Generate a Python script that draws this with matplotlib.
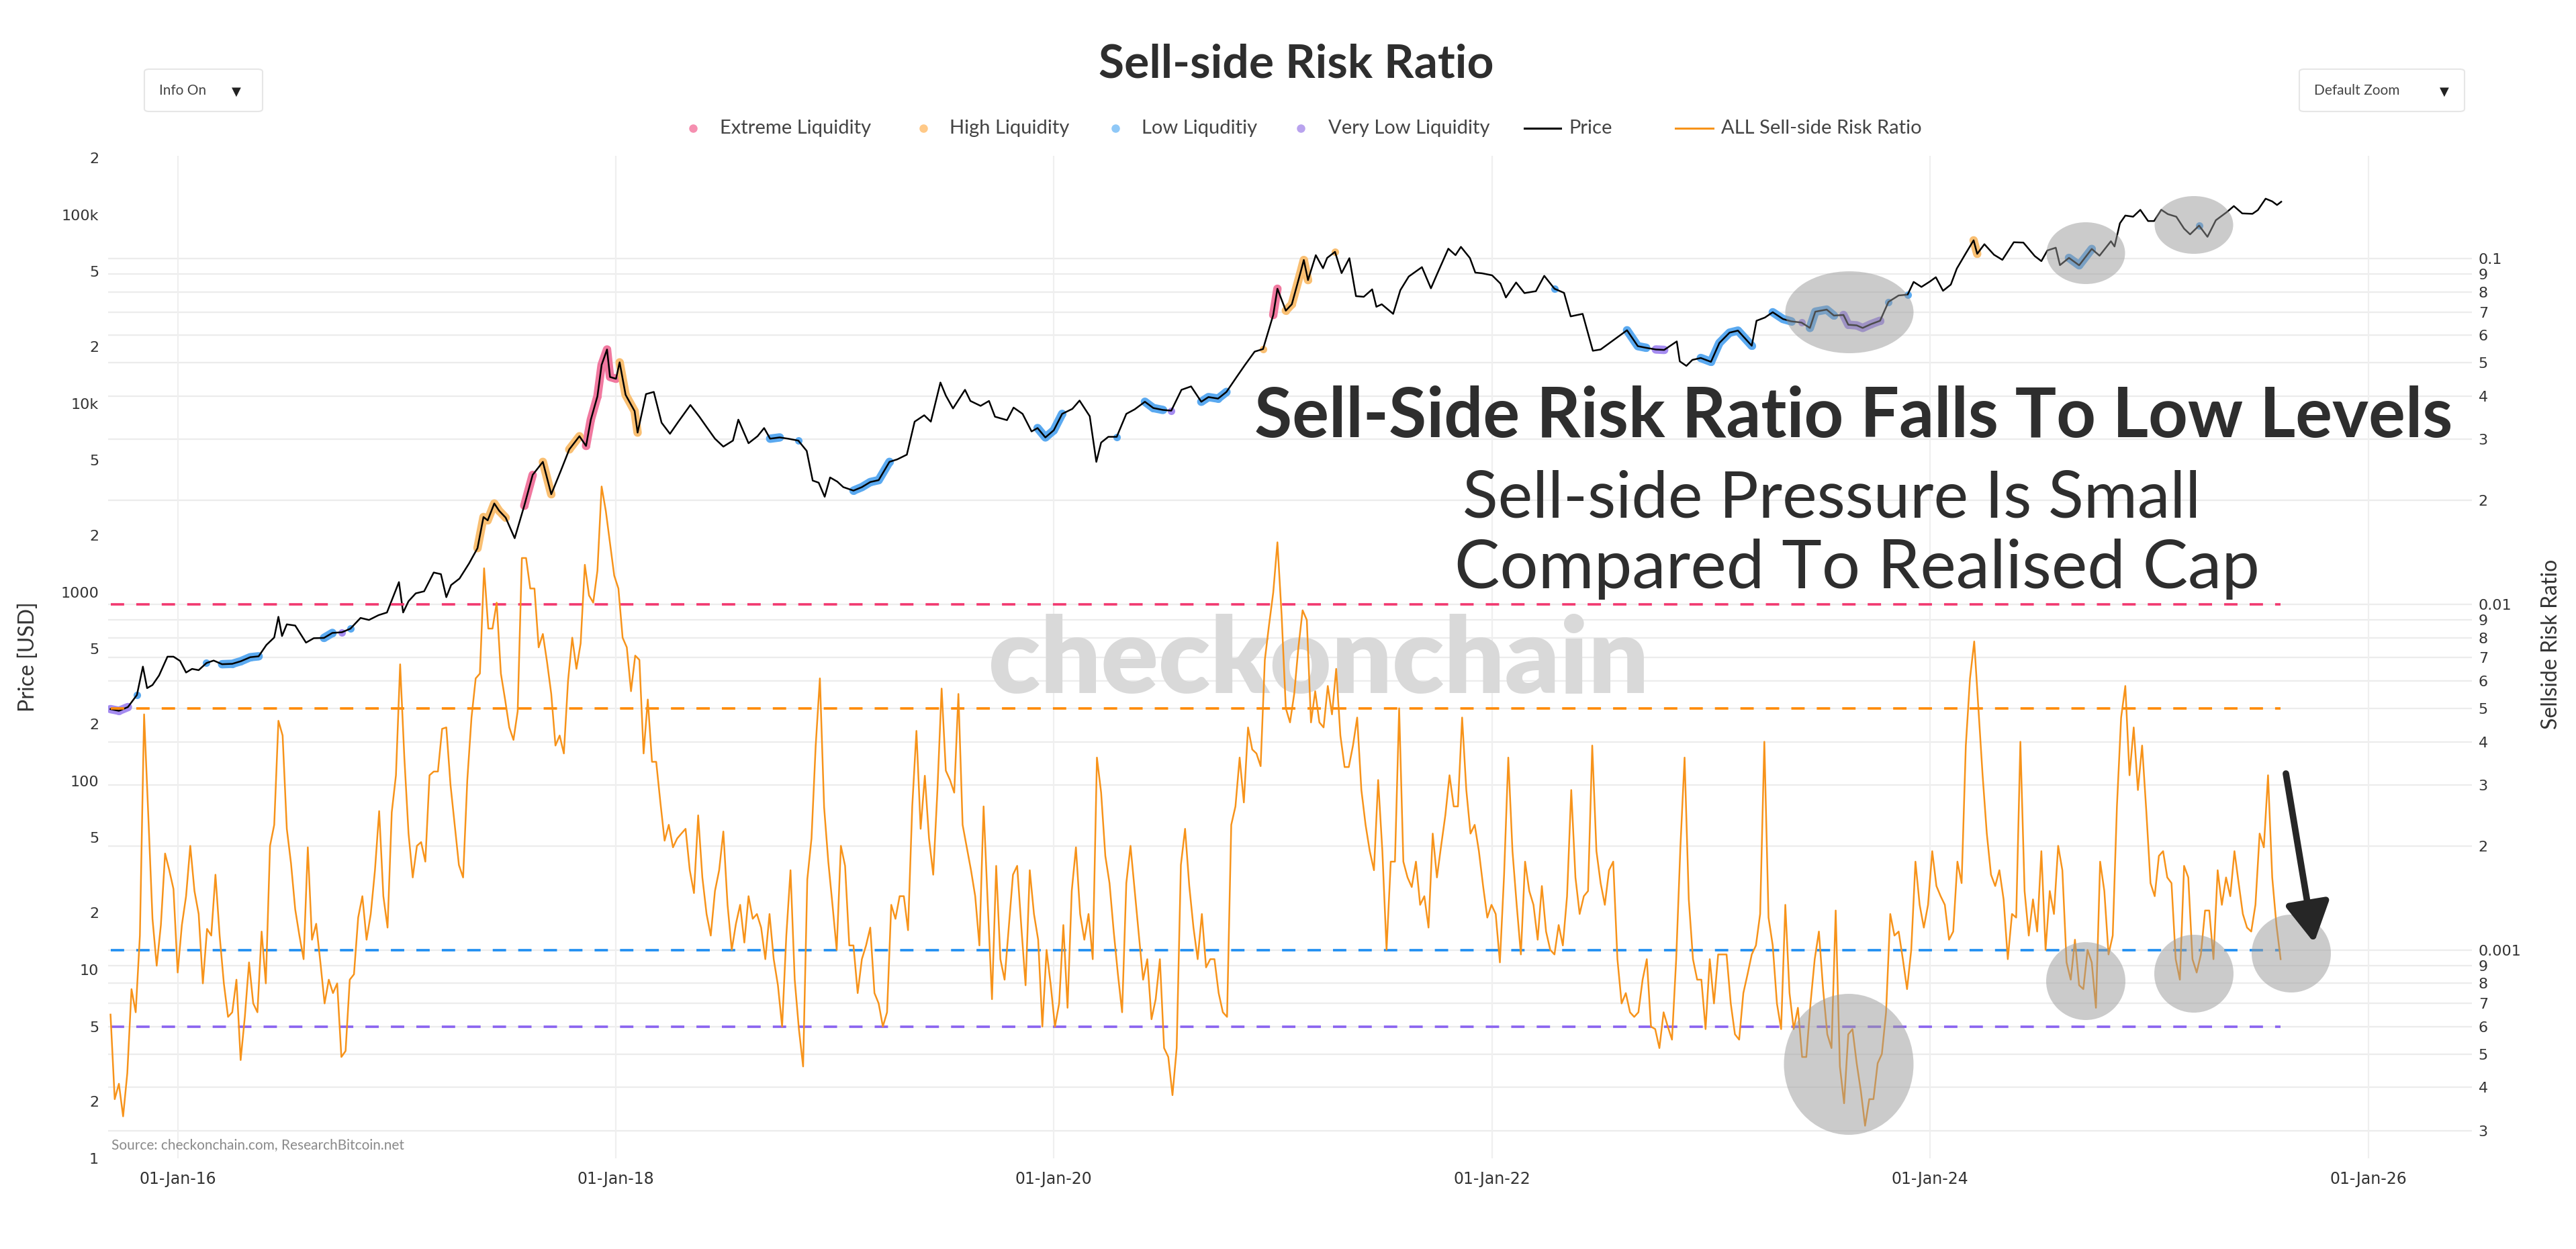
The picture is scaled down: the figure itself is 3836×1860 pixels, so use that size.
import numpy as np
import pandas as pd
import matplotlib
matplotlib.use("Agg")
import matplotlib.pyplot as plt
import matplotlib.dates as mdates
import matplotlib.ticker as mticker
from matplotlib.patches import Ellipse, FancyBboxPatch, FancyArrowPatch, ArrowStyle
from matplotlib.lines import Line2D

# ------------------------------------------------------------------ data
# Sell-side risk ratio, weekly samples (units of 1e-4)
ssr_start = "2015-09-11"
ssr_2015_2017 = [6.5, 3.7, 4.1, 3.3, 4.4, 7.7, 6.6, 11, 48, 24.5,
                 12.3, 9, 11.8, 19, 17, 15, 8.6, 11.8, 14.3, 20,
                 14.8, 12.7, 8, 11.5, 11, 16.5, 11, 8, 6.4, 6.6,
                 8.2, 4.8, 6.4, 9.2, 7, 6.6, 11.3, 8, 20, 23,
                 46, 41.7, 22.4, 17.8, 13.1, 11, 9.4, 19.8, 10.7, 11.9,
                 9.2, 7, 8.2, 7.5, 8, 4.9, 5.1, 8.2, 8.5, 12.4,
                 14.3, 10.7, 12.7, 17, 25.2, 14.3, 11.6, 25, 32, 67,
                 36, 21.7, 16.2, 20, 20.5, 18, 32, 32.8, 32.8, 43.6,
                 44, 30, 23, 17.6, 16.2, 31, 47, 61, 63, 127,
                 85, 85, 101, 63, 53, 44, 40.5, 49]
ssr_2017_2019 = [136, 136, 111, 111, 75, 82, 68, 55, 39, 41.7,
                 37, 60, 80, 65, 77, 130, 106, 101, 125, 219,
                 186, 150, 121, 111, 80, 75, 56, 71, 69, 37,
                 53, 35, 35, 26.7, 20.7, 23, 19.8, 21, 21.7, 22.4,
                 17, 14.6, 24.5, 16.2, 12.7, 11, 14.8, 17, 22, 13.5,
                 10, 11.9, 13.5, 10.5, 14.3, 12.3, 12.7, 11.6, 9.4, 12.7,
                 9.4, 7.9, 6, 11, 17, 8.2, 5.9, 4.6, 16, 21,
                 39, 61, 25.9, 18, 13.5, 10, 20, 17.5, 10.3, 10.3,
                 7.5, 9.4, 10.3, 11.6, 7.5, 7, 6, 6.6, 13.5, 12.3,
                 14.3, 14.3, 11.4, 26, 43, 22.4]
ssr_2019_2021 = [31.9, 21, 16.5, 29, 57, 33, 31, 28.5, 55, 23,
                 19.8, 17, 14.3, 10.3, 26, 13.5, 7.2, 17.5, 9.4, 8.2,
                 11.6, 16.5, 17.5, 11.6, 7.9, 17, 12.7, 10.7, 6, 10,
                 7.9, 6, 7, 11.8, 6.8, 14.8, 19.8, 12.7, 10.7, 12.7,
                 9.4, 36, 28.5, 18.7, 15.6, 11.3, 8.5, 6.6, 15.6, 20,
                 14.8, 11, 8.2, 9.4, 6.3, 7.2, 9.4, 5.2, 4.9, 3.8,
                 5.2, 17.6, 22.4, 15.3, 11.6, 9.4, 12.7, 8.9, 9.4, 9.4,
                 7.5, 6.6, 6.4, 23, 26, 36, 26.7, 44, 38, 37,
                 34, 69, 87, 108, 151, 93, 50, 45.5, 55, 75,
                 96, 90, 45.5, 56, 45.5]
ssr_2021_2023 = [44, 58, 48, 65, 41.7, 33.8, 33.8, 39, 47, 29,
                 23, 19.3, 17, 31, 19.3, 10, 18, 18, 50, 18,
                 16.2, 15.2, 18, 13.5, 14.3, 11.6, 21.7, 16.2, 20, 24.5,
                 32, 26, 26, 47, 29, 21.7, 23, 19.3, 15.3, 12.4,
                 13.5, 12.7, 9.2, 16.5, 36, 19.3, 13.5, 9.7, 18, 14.8,
                 13.5, 10.7, 15.3, 11.3, 10, 9.7, 11.8, 10.3, 14.3, 29,
                 16.2, 12.7, 14.3, 14.8, 39, 19.3, 15.6, 13.5, 17, 18,
                 9.4, 7, 7.5, 6.6, 6.4, 6.6, 8.2, 9.4, 6, 5.9,
                 5.2, 6.6, 6, 5.5, 9.4, 19.8, 36, 14, 9.4, 8.2,
                 8.2, 5.9, 9.4, 7, 9.7, 9.7]
ssr_2023_2024 = [9.7, 7, 5.7, 5.5, 7.5, 8.5, 9.7, 10.3, 12.7, 40,
                 12.4, 10.3, 7, 5.9, 13.5, 7.5, 5.9, 6.8, 4.9, 4.9,
                 7, 9.4, 11.3, 7.7, 5.7, 5.2, 13, 4.6, 3.6, 5.7,
                 5.9, 4.7, 3.9, 3.1, 3.7, 3.7, 4.7, 5, 6.6, 12.7,
                 11, 11.3, 9.4, 7.7, 10, 18, 13.5, 11.6, 13.5, 19.3,
                 15.3, 14.3, 13.5, 10.7, 11.3, 18, 15.6, 39, 61, 78,
                 50, 32, 21.7, 16.5, 15.3, 17, 14, 9.4, 12.7, 12.4,
                 40, 14.8, 11, 14, 11.3, 19.3, 10, 14.8, 12.7, 20,
                 17, 9.2, 8.2, 10.7, 7.9, 7.7, 10, 9.2, 6.8, 18,
                 14.8, 9.7, 11, 26, 47, 58]
ssr_2024_2025 = [32, 44, 29, 39, 25.2, 15.6, 14.3, 18.7, 19.3, 16.2,
                 15.6, 9.4, 8.2, 17.5, 16.2, 9.4, 8.6, 9.7, 13, 13,
                 9.4, 17, 13.5, 16.2, 14.3, 19.3, 15.6, 12.7, 11.6, 11.3,
                 13.5, 21.7, 19.8, 32, 16.2, 11.8, 9.4]

# BTC price (USD)
price_dates = [
    "2015-09-11", "2015-09-25", "2015-10-10", "2015-10-25", "2015-11-04", "2015-11-11", "2015-11-20",
    "2015-12-01", "2015-12-15", "2015-12-25", "2016-01-05", "2016-01-15", "2016-01-25", "2016-02-05",
    "2016-02-18", "2016-03-01", "2016-03-15", "2016-04-01", "2016-04-15", "2016-05-01", "2016-05-15",
    "2016-05-28", "2016-06-10", "2016-06-17", "2016-06-23", "2016-07-01", "2016-07-15", "2016-08-02",
    "2016-08-15", "2016-09-01", "2016-09-15", "2016-10-01", "2016-10-15", "2016-11-01", "2016-11-15",
    "2016-12-01", "2016-12-15", "2017-01-04", "2017-01-11", "2017-01-20", "2017-02-01", "2017-02-15",
    "2017-03-03", "2017-03-15", "2017-03-24", "2017-04-01", "2017-04-15", "2017-05-01", "2017-05-15",
    "2017-05-25", "2017-06-01", "2017-06-12", "2017-06-20", "2017-07-01", "2017-07-16", "2017-08-01",
    "2017-08-15", "2017-09-01", "2017-09-15", "2017-10-01", "2017-10-15", "2017-11-01", "2017-11-12",
    "2017-11-20", "2017-12-01", "2017-12-08", "2017-12-17", "2017-12-22", "2018-01-01", "2018-01-07",
    "2018-01-17", "2018-02-01", "2018-02-06", "2018-02-20", "2018-03-05", "2018-03-18", "2018-04-01",
    "2018-04-15", "2018-05-05", "2018-05-20", "2018-06-01", "2018-06-15", "2018-06-29", "2018-07-15",
    "2018-07-24", "2018-08-10", "2018-08-25", "2018-09-05", "2018-09-15", "2018-10-01", "2018-10-15",
    "2018-11-01", "2018-11-15", "2018-11-25", "2018-12-05", "2018-12-15", "2018-12-24", "2019-01-05",
    "2019-01-15", "2019-02-01", "2019-02-15", "2019-03-01", "2019-03-15", "2019-04-02", "2019-04-15",
    "2019-05-01", "2019-05-14", "2019-05-30", "2019-06-10", "2019-06-26", "2019-07-05", "2019-07-17",
    "2019-08-06", "2019-08-15", "2019-09-01", "2019-09-15", "2019-09-25", "2019-10-15", "2019-10-26",
    "2019-11-10", "2019-11-25", "2019-12-05", "2019-12-18", "2020-01-01", "2020-01-15", "2020-02-01",
    "2020-02-13", "2020-03-01", "2020-03-12", "2020-03-20", "2020-04-01", "2020-04-15", "2020-05-01",
    "2020-05-15", "2020-06-01", "2020-06-15", "2020-07-01", "2020-07-15", "2020-08-01", "2020-08-17",
    "2020-09-03", "2020-09-15", "2020-10-01", "2020-10-15", "2020-11-01", "2020-11-15", "2020-12-01",
    "2020-12-15", "2021-01-01", "2021-01-08", "2021-01-22", "2021-02-01", "2021-02-15", "2021-02-21",
    "2021-02-28", "2021-03-13", "2021-03-25", "2021-04-01", "2021-04-14", "2021-04-25", "2021-05-08",
    "2021-05-19", "2021-06-01", "2021-06-15", "2021-06-22", "2021-07-01", "2021-07-20", "2021-08-01",
    "2021-08-15", "2021-09-06", "2021-09-21", "2021-10-01", "2021-10-20", "2021-11-01", "2021-11-10",
    "2021-11-25", "2021-12-04", "2021-12-15", "2022-01-01", "2022-01-15", "2022-01-24", "2022-02-10",
    "2022-02-24", "2022-03-15", "2022-03-29", "2022-04-15", "2022-05-01", "2022-05-12", "2022-06-01",
    "2022-06-18", "2022-07-01", "2022-07-15", "2022-08-14", "2022-09-01", "2022-09-15", "2022-10-01",
    "2022-10-15", "2022-11-05", "2022-11-10", "2022-11-21", "2022-12-01", "2022-12-15", "2023-01-01",
    "2023-01-15", "2023-02-01", "2023-02-15", "2023-03-10", "2023-03-18", "2023-04-01", "2023-04-14",
    "2023-05-01", "2023-05-15", "2023-06-01", "2023-06-15", "2023-06-24", "2023-07-13", "2023-07-25",
    "2023-08-10", "2023-08-18", "2023-09-01", "2023-09-11", "2023-09-25", "2023-10-10", "2023-10-24",
    "2023-11-10", "2023-11-25", "2023-12-05", "2023-12-18", "2024-01-01", "2024-01-11", "2024-01-23",
    "2024-02-05", "2024-02-15", "2024-03-01", "2024-03-14", "2024-03-20", "2024-04-01", "2024-04-17",
    "2024-05-01", "2024-05-20", "2024-06-05", "2024-06-24", "2024-07-05", "2024-07-15", "2024-07-29",
    "2024-08-05", "2024-08-20", "2024-09-06", "2024-09-27", "2024-10-10", "2024-10-29", "2024-11-04",
    "2024-11-13", "2024-11-22", "2024-12-05", "2024-12-17", "2024-12-30", "2025-01-09", "2025-01-21",
    "2025-02-01", "2025-02-15", "2025-02-28", "2025-03-10", "2025-03-25", "2025-04-08", "2025-04-22",
    "2025-05-10", "2025-05-22", "2025-06-05", "2025-06-22", "2025-07-01", "2025-07-14", "2025-07-25",
    "2025-08-02", "2025-08-09"]
price_vals = [
    240, 235, 246, 285, 403, 310, 322,
    362, 455, 455, 432, 375, 392, 386,
    421, 434, 415, 417, 430, 452, 457,
    525, 575, 740, 585, 675, 665, 540,
    570, 572, 608, 613, 640, 730, 712,
    755, 780, 1130, 780, 895, 985, 1010,
    1270, 1245, 940, 1090, 1180, 1420, 1710,
    2500, 2400, 2950, 2700, 2480, 1930, 2870,
    4180, 4900, 3300, 4400, 5700, 6700, 5950,
    8200, 10900, 16000, 19300, 13800, 13500, 16500,
    11100, 9100, 7000, 11200, 11500, 7900, 6900,
    8000, 9800, 8500, 7500, 6500, 5900, 6350,
    8200, 6150, 6700, 7400, 6500, 6600, 6500,
    6350, 5600, 3900, 3800, 3200, 4050, 3850,
    3600, 3450, 3600, 3830, 3920, 4900, 5050,
    5350, 8000, 8650, 8000, 12900, 11000, 9400,
    11800, 10300, 9700, 10300, 8500, 8150, 9500,
    8800, 7100, 7400, 6600, 7200, 8800, 9350,
    10350, 8550, 4900, 6200, 6650, 6650, 8800,
    9300, 10200, 9450, 9230, 9150, 11800, 12300,
    10200, 10800, 10600, 11500, 13800, 16000, 18800,
    19400, 29400, 40500, 31000, 33500, 48700, 57500,
    45000, 61000, 52000, 59000, 63500, 49000, 58800,
    37000, 36700, 40200, 32500, 33500, 29800, 39800,
    47000, 52700, 40700, 48200, 66000, 61000, 67500,
    58900, 49300, 48900, 47700, 43100, 36400, 43700,
    38400, 39300, 47400, 40500, 38500, 28900, 29800,
    19000, 19300, 20800, 24400, 20100, 19700, 19300,
    19200, 21300, 16700, 15800, 17000, 17400, 16600,
    20900, 23700, 24300, 20200, 27400, 28500, 30400,
    28000, 27200, 26800, 25100, 30600, 31400, 29200,
    29400, 26100, 25900, 25100, 26300, 27400, 34500,
    37300, 37700, 44000, 41400, 44200, 46600, 39500,
    42600, 51800, 62400, 73100, 62000, 69700, 61300,
    57600, 71400, 71100, 60300, 56700, 64600, 66800,
    54000, 59000, 53900, 65800, 60600, 72300, 67800,
    90000, 98900, 97500, 106000, 92500, 92500, 106100,
    100600, 97500, 84300, 78600, 87500, 76300, 93400,
    103000, 111000, 101500, 101000, 105700, 121500, 117500,
    112500, 117000]

# liquidity threshold levels on the ratio axis
level_values = [0.01, 0.005, 0.001, 0.0006]
level_colors = ["#f2386f", "#ff8a00", "#1f8ef1", "#8a63f0"]

legend_labels = ["Extreme Liquidity", "High Liquidity", "Low Liquditiy", "Very Low Liquidity",
                 "Price", "ALL Sell-side Risk Ratio"]

price_ticks = [1, 2, 5, 10, 20, 50, 100, 200, 500, 1000, 2000, 5000,
               10000, 20000, 50000, 100000, 200000]
price_tick_labels = ["1", "2", "5", "10", "2", "5", "100", "2", "5", "1000", "2", "5",
                     "10k", "2", "5", "100k", "2"]
ratio_ticks = [0.1, 0.09, 0.08, 0.07, 0.06, 0.05, 0.04, 0.03, 0.02,
               0.01, 0.009, 0.008, 0.007, 0.006, 0.005, 0.004, 0.003, 0.002,
               0.001, 0.0009, 0.0008, 0.0007, 0.0006, 0.0005, 0.0004, 0.0003]
ratio_tick_labels = ["0.1", "9", "8", "7", "6", "5", "4", "3", "2",
                     "0.01", "9", "8", "7", "6", "5", "4", "3", "2",
                     "0.001", "9", "8", "7", "6", "5", "4", "3"]

# ------------------------------------------------------------------ prep
ssr = np.array(ssr_2015_2017 + ssr_2017_2019 + ssr_2019_2021 + ssr_2021_2023
               + ssr_2023_2024 + ssr_2024_2025) * 1e-4
ssr_dates = pd.date_range(ssr_start, periods=len(ssr), freq="7D")
p_dates = pd.to_datetime(price_dates)
price = np.array(price_vals, dtype=float)

W, H = 3836, 1860
FONT = ["Lato", "DejaVu Sans"]
plt.rcParams["font.family"] = FONT

fig = plt.figure(figsize=(W / 100, H / 100), dpi=100)
fig.patch.set_facecolor("white")

AX_L, AX_R, AX_T, AX_B = 161, 3681, 232, 1725
ax = fig.add_axes([AX_L / W, 1 - AX_B / H, (AX_R - AX_L) / W, (AX_B - AX_T) / H])
ax2 = ax.twinx()
for a in (ax, ax2):
    for s in a.spines.values():
        s.set_visible(False)
    a.patch.set_visible(False)

P_LO, P_HI = 1.0, 2.05e5
R_LO, R_HI = 10 ** -3.603, 10 ** -0.703
X_LO, X_HI = pd.Timestamp("2015-09-07"), pd.Timestamp("2026-06-23")

ax.set_yscale("log")
ax2.set_yscale("log")
ax.set_ylim(P_LO, P_HI)
ax2.set_ylim(R_LO, R_HI)
ax.set_xlim(X_LO, X_HI)

# horizontal gridlines at ratio ticks (drawn on the bottom axes)
for v in ratio_ticks:
    frac = (np.log10(v) - np.log10(R_LO)) / (np.log10(R_HI) - np.log10(R_LO))
    ax.plot([0, 1], [frac, frac], transform=ax.transAxes, color="#ececec", lw=1.6, zorder=0)

# vertical gridlines
xt = pd.to_datetime(["2016-01-01", "2018-01-01", "2020-01-01", "2022-01-01", "2024-01-01", "2026-01-01"])
for d in xt:
    ax.axvline(d, color="#efefef", lw=1.6, zorder=0)

# watermark
wm = ax.text(0, 0, "checkonchain", fontsize=100, weight="heavy", color="#d9d9d9",
             ha="center", va="baseline", zorder=0.5, transform=fig.transFigure)

# liquidity glow on price
t_ssr = mdates.date2num(ssr_dates)
t_pr = mdates.date2num(p_dates)
sm = pd.Series(np.log10(ssr)).rolling(3, center=True, min_periods=1).mean().values
lv = 10 ** np.interp(t_pr, t_ssr, sm)
regimes = [
    (lv > 0.01, "#f0789f"),
    ((lv > 0.005) & (lv <= 0.01), "#f9bf72"),
    ((lv < 0.00105) & (lv >= 0.0006), "#5aa9f0"),
    (lv < 0.0006, "#a58cf0"),
]
for mask, col in regimes:
    y = np.where(mask, price, np.nan)
    ax.plot(p_dates, y, color=col, lw=9, solid_capstyle="round", solid_joinstyle="round",
            marker="o", ms=8, mew=0, zorder=2)

ax.plot(p_dates, price, color="black", lw=1.8, zorder=3)

# ratio line and levels
for lvl, col in zip(level_values, level_colors):
    ax2.hlines(lvl, ssr_dates[0], ssr_dates[-1], colors=col, lw=2.6,
               linestyles=(0, (5.5, 5.0)), zorder=2)
ax2.plot(ssr_dates, ssr, color="#f7931a", lw=1.8, zorder=3)

# ticks
ax.yaxis.set_major_locator(mticker.FixedLocator(price_ticks))
ax.yaxis.set_major_formatter(mticker.FixedFormatter(price_tick_labels))
ax.yaxis.set_minor_locator(mticker.NullLocator())
ax2.yaxis.set_major_locator(mticker.FixedLocator(ratio_ticks))
ax2.yaxis.set_major_formatter(mticker.FixedFormatter(ratio_tick_labels))
ax2.yaxis.set_minor_locator(mticker.NullLocator())
ax.xaxis.set_major_locator(mticker.FixedLocator(mdates.date2num(xt)))
ax.xaxis.set_major_formatter(mdates.DateFormatter("%d-%b-%y"))
ax.tick_params(axis="y", length=0, pad=10, labelsize=16, labelcolor="#333333")
ax2.tick_params(axis="y", length=0, pad=7, labelsize=16, labelcolor="#333333")
ax.tick_params(axis="x", length=0, pad=14, labelsize=17, labelcolor="#333333")
for lab in ax.get_yticklabels() + ax2.get_yticklabels() + ax.get_xticklabels():
    lab.set_family(["DejaVu Sans"])

# ------------------------------------------------------------------ text helpers
def fx(x):
    return x / W

def fy(y):
    return 1 - y / H

renderer = fig.canvas.get_renderer()

def fit_text(x, y, s, target_w, fs0, ha="center", **kw):
    t = fig.text(fx(x), fy(y), s, fontsize=fs0, ha=ha, va="baseline", **kw)
    bb = t.get_window_extent(renderer=renderer)
    t.set_fontsize(fs0 * target_w / bb.width)
    return t

wm.set_position((fx(1964), fy(1032)))
bb = wm.get_window_extent(renderer=renderer)
wm.set_fontsize(100 * 983 / bb.width)

fit_text(1930, 115, "Sell-side Risk Ratio", 587, 38, weight="bold", color="#2e2e2e")
fit_text(2760, 651, "Sell-Side Risk Ratio Falls To Low Levels", 1788, 70, weight="bold", color="#2e2e2e")
fit_text(2728, 770, "Sell-side Pressure Is Small", 1100, 66, weight="normal", color="#2e2e2e")
fit_text(2766, 876, "Compared To Realised Cap", 1199, 66, weight="normal", color="#2e2e2e")

fig.text(fx(42), fy(978), "Price [USD]", rotation=90, ha="center", va="center",
         fontsize=23, color="#333333")
fig.text(fx(3799), fy(959), "Sellside Risk Ratio", rotation=90, ha="center", va="center",
         fontsize=23, color="#333333")
fig.text(fx(166), fy(1705), "Source: checkonchain.com, ResearchBitcoin.net", ha="left", va="center",
         fontsize=15, color="#8a8a8a")

# control boxes
for (x0, x1, lab, tx, ax_) in [(215, 391, "Info On", 237, 352), (3424, 3670, "Default Zoom", 3446, 3640)]:
    box = FancyBboxPatch((fx(x0), fy(166)), fx(x1 - x0), (166 - 103) / H,
                         boxstyle="round,pad=0,rounding_size=0.002", transform=fig.transFigure,
                         facecolor="white", edgecolor="#e6e6e6", lw=1.5, zorder=1)
    fig.add_artist(box)
    fig.text(fx(tx), fy(135), lab, ha="left", va="center", fontsize=15, color="#444444")
    fig.text(fx(ax_), fy(137), "\u25BC", ha="center", va="center", fontsize=13,
             color="#222222", family=["DejaVu Sans"])

# legend (manual)
leg_y = fy(191)
marker_cols = ["#f58fb0", "#ffc987", "#8fc8f7", "#b9a3ee"]
dot_x = [1032, 1375, 1661, 1937]
txt_x = [1072, 1414, 1700, 1978, 2336, 2563]
for i in range(4):
    fig.add_artist(Line2D([fx(dot_x[i])], [leg_y], marker="o", ms=9, mew=0, color=marker_cols[i],
                          transform=fig.transFigure))
fig.add_artist(Line2D([fx(2270), fx(2324)], [leg_y, leg_y], color="black", lw=2.2, transform=fig.transFigure))
fig.add_artist(Line2D([fx(2495), fx(2551)], [leg_y, leg_y], color="#f7931a", lw=2.2, transform=fig.transFigure))
for i, lab in enumerate(legend_labels):
    fig.text(fx(txt_x[i]), leg_y, lab, ha="left", va="center", fontsize=21, color="#444444")

# highlight ellipses
ell = [(2754, 465, 191, 122), (3106, 377, 117, 92), (3267, 335, 117, 86),
       (2753, 1585, 193, 210), (3106, 1461, 118, 116), (3267, 1450, 118, 116), (3412, 1420, 118, 116)]
for cx, cy, w, h in ell:
    e = Ellipse((fx(cx), fy(cy)), w / W, h / H, transform=fig.transFigure,
                facecolor="#999999", alpha=0.5, edgecolor="none", zorder=5)
    fig.add_artist(e)

# arrow
arr = FancyArrowPatch((fx(3404), fy(1152)), (fx(3446), fy(1404)), transform=fig.transFigure,
                      arrowstyle=ArrowStyle("-|>", head_length=3.6, head_width=2.0),
                      mutation_scale=10, lw=7, color="#262626", shrinkA=0, shrinkB=0, zorder=6)
fig.add_artist(arr)

fig.savefig("out.png", dpi=100, facecolor="white")
